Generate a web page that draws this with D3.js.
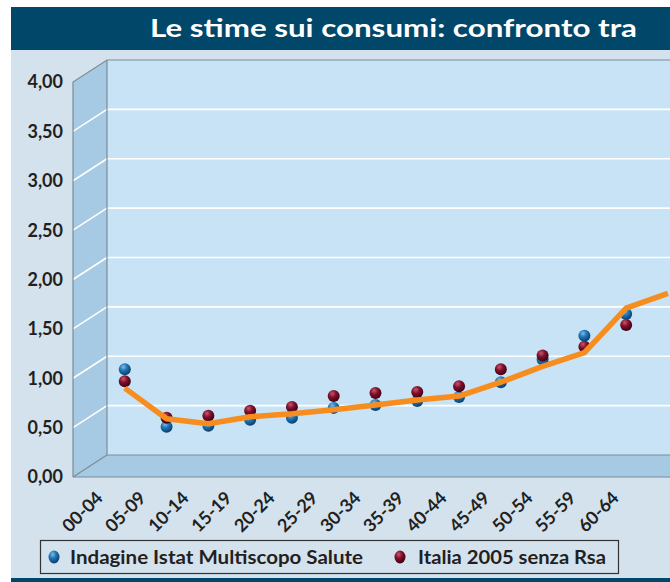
<!DOCTYPE html>
<html>
<head>
<meta charset="utf-8">
<script src="https://cdn.jsdelivr.net/npm/d3@7"></script>
<style>
  body { margin: 0; background: #fff; }
  svg { display: block; font-family: Lato, "Open Sans", sans-serif; }
</style>
</head>
<body>
<script>
const title = "Le stime sui consumi: confronto tra";
const ageGroups = ["00-04", "05-09", "10-14", "15-19", "20-24", "25-29", "30-34",
  "35-39", "40-44", "45-49", "50-54", "55-59", "60-64", "65-69"];
const tickGroups = ageGroups.slice(0, 13);
const istat = [1.09, 0.51, 0.52, 0.58, 0.6, 0.7, 0.73, 0.77, 0.81, 0.96, 1.19, 1.43, 1.65];
const italia = [0.97, 0.6, 0.62, 0.67, 0.71, 0.82, 0.85, 0.86, 0.92, 1.09, 1.23, 1.32, 1.54];
const trend = [0.9, 0.59, 0.54, 0.61, 0.64, 0.68, 0.73, 0.78, 0.82, 0.96, 1.12, 1.26, 1.71, 1.86];
const yTicks = [0, 0.5, 1, 1.5, 2, 2.5, 3, 3.5, 4];
const legendLabels = ["Indagine Istat Multiscopo Salute", "Italia 2005 senza Rsa"];

const width = 670;
const height = 582;

const svg = d3.select("body").append("svg")
  .attr("width", width)
  .attr("height", height);

const defs = svg.append("defs");
const sphere = (id, light, mid, dark) => {
  const g = defs.append("radialGradient").attr("id", id)
    .attr("cx", "38%").attr("cy", "30%").attr("r", "70%");
  g.append("stop").attr("offset", "0%").attr("stop-color", light);
  g.append("stop").attr("offset", "45%").attr("stop-color", mid);
  g.append("stop").attr("offset", "100%").attr("stop-color", dark);
};
sphere("blueBall", "#7fbbe6", "#1f74b4", "#0b3f6e");
sphere("redBall", "#c8566e", "#80102c", "#3e0012");

// frame
svg.append("rect").attr("x", 11).attr("y", 7).attr("width", width - 11).attr("height", 43)
  .attr("fill", "#00476a");
svg.append("rect").attr("x", 11).attr("y", 50).attr("width", width - 11).attr("height", 528)
  .attr("fill", "#d4e2ed");
svg.append("rect").attr("x", 11).attr("y", 578).attr("width", width - 11).attr("height", 4)
  .attr("fill", "#00476a");

svg.append("text")
  .attr("x", 150).attr("y", 37)
  .attr("fill", "#fff")
  .attr("font-size", 25).attr("font-weight", 700)
  .attr("textLength", 487).attr("lengthAdjust", "spacingAndGlyphs")
  .text(title);

// 3d box
const xFront = 73, xBack = 107;
const yFront = d3.scaleLinear().domain([0, 4]).range([477, 82]);
const yBack = d3.scaleLinear().domain([0, 4]).range([455, 60]);
const edge = "#7e8b95";

svg.append("rect")
  .attr("x", xBack).attr("y", yBack(4))
  .attr("width", width - xBack).attr("height", yBack(0) - yBack(4))
  .attr("fill", "#c7e3f5");

svg.append("polygon")
  .attr("points", [[xFront, yFront(4)], [xBack, yBack(4)], [xBack, yBack(0)], [xFront, yFront(0)]].join(" "))
  .attr("fill", "#a6c9e4");

svg.append("polygon")
  .attr("points", [[xFront, yFront(0)], [xBack, yBack(0)], [width, yBack(0)], [width, yFront(0)]].join(" "))
  .attr("fill", "#a6c9e4");

const grid = svg.append("g").attr("stroke", "#fff").attr("stroke-width", 1.6);
grid.selectAll(".gb")
  .data(yTicks.filter((d) => d > 0 && d < 4))
  .join("line")
  .attr("class", "gb")
  .attr("x1", xBack).attr("x2", width)
  .attr("y1", (d) => yBack(d)).attr("y2", (d) => yBack(d));
grid.selectAll(".gs")
  .data(yTicks.filter((d) => d > 0 && d < 4))
  .join("line")
  .attr("class", "gs")
  .attr("x1", xFront).attr("x2", xBack)
  .attr("y1", (d) => yFront(d)).attr("y2", (d) => yBack(d));

const edges = svg.append("g").attr("stroke", edge).attr("stroke-width", 1.2).attr("fill", "none");
edges.append("polyline")
  .attr("points", [[xFront, yFront(0)], [xFront, yFront(4)], [xBack, yBack(4)], [width, yBack(4)]].join(" "));
edges.append("polyline")
  .attr("points", [[xBack, yBack(4)], [xBack, yBack(0)], [width, yBack(0)]].join(" "));
edges.append("polyline")
  .attr("points", [[xFront, yFront(0)], [xBack, yBack(0)]].join(" "));
edges.append("line")
  .attr("x1", xFront).attr("x2", width)
  .attr("y1", yFront(0)).attr("y2", yFront(0));

// y axis labels
svg.append("g")
  .selectAll("text")
  .data(yTicks)
  .join("text")
  .attr("x", 63)
  .attr("y", (d) => yFront(d))
  .attr("dy", "0.36em")
  .attr("text-anchor", "end")
  .attr("font-size", 18).attr("font-weight", 700)
  .attr("fill", "#231f20")
  .text((d) => d3.format(".2f")(d).replace(".", ","));

// x labels
const xLabel = d3.scalePoint().domain(tickGroups).range([104, 620]);
svg.append("g")
  .selectAll("text")
  .data(tickGroups)
  .join("text")
  .attr("transform", (d) => `translate(${xLabel(d)},${499}) rotate(-45)`)
  .attr("text-anchor", "end")
  .attr("font-size", 18).attr("font-weight", 700)
  .attr("fill", "#231f20")
  .text((d) => d);

// series
const x = d3.scalePoint().domain(ageGroups).range([124.8, 124.8 + 13 * 41.78]);

svg.append("g")
  .selectAll("circle")
  .data(istat)
  .join("circle")
  .attr("cx", (d, i) => x(ageGroups[i]))
  .attr("cy", (d) => yFront(d))
  .attr("r", 6)
  .attr("fill", "url(#blueBall)");

svg.append("g")
  .selectAll("circle")
  .data(italia)
  .join("circle")
  .attr("cx", (d, i) => x(ageGroups[i]))
  .attr("cy", (d) => yFront(d))
  .attr("r", 6)
  .attr("fill", "url(#redBall)");

const line = d3.line()
  .x((d, i) => x(ageGroups[i]))
  .y((d) => yFront(d));

svg.append("path")
  .attr("d", line(trend))
  .attr("fill", "none")
  .attr("stroke", "#f78d1e")
  .attr("stroke-width", 5.5)
  .attr("stroke-linejoin", "round");

// legend
const legend = svg.append("g");
legend.append("rect")
  .attr("x", 40.5).attr("y", 540.5)
  .attr("width", 578).attr("height", 33)
  .attr("fill", "none")
  .attr("stroke", "#333").attr("stroke-width", 1.2);

const legendItems = [
  { label: legendLabels[0], fill: "url(#blueBall)", cx: 54, tx: 70, len: 293 },
  { label: legendLabels[1], fill: "url(#redBall)", cx: 400, tx: 418, len: 188 },
];
legendItems.forEach((d) => {
  legend.append("ellipse")
    .attr("cx", d.cx).attr("cy", 557)
    .attr("rx", 5.5).attr("ry", 6.5)
    .attr("fill", d.fill);
  legend.append("text")
    .attr("x", d.tx).attr("y", 564)
    .attr("font-size", 19).attr("font-weight", 700)
    .attr("fill", "#231f20")
    .attr("textLength", d.len).attr("lengthAdjust", "spacingAndGlyphs")
    .text(d.label);
});
</script>
</body>
</html>
